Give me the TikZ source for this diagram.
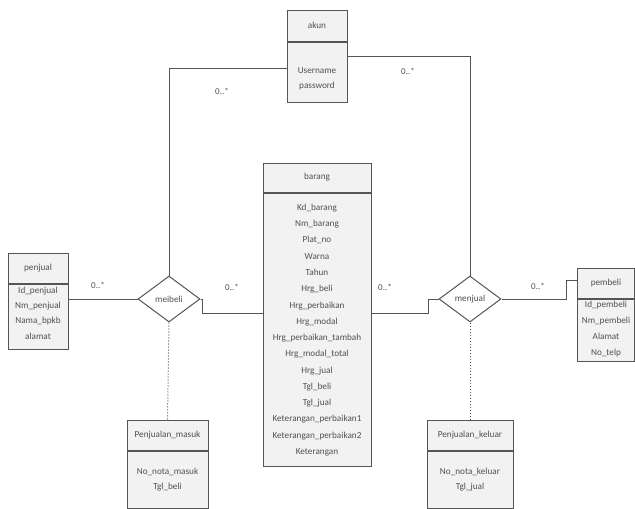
\documentclass[tikz,border=0pt]{standalone}
\usepackage{fontspec}
\setmainfont{Carlito}
\usetikzlibrary{positioning, shapes.geometric, calc}
\definecolor{linec}{HTML}{555555}
\definecolor{boxfill}{HTML}{F2F2F2}
\definecolor{textc}{HTML}{505050}

\begin{document}
\begin{tikzpicture}[x=1pt, y=-1pt, text=textc,
    head/.style={draw=linec, fill=boxfill, minimum height=30pt, inner sep=0pt, line width=1pt,
      font=\fontsize{9.2}{10}\selectfont},
    body/.style={draw=linec, fill=boxfill, inner sep=0pt, line width=1pt},
    attrs/.style={align=center, inner sep=0pt, font=\fontsize{9.2}{#1}\selectfont},
    attrs/.default=15.3,
    rel/.style={diamond, draw=linec, fill=white, minimum width=62pt, minimum height=46pt,
      inner sep=0pt, line width=1pt, font=\fontsize{9.2}{10}\selectfont},
    conn/.style={draw=linec, line width=1pt},
    mult/.style={font=\fontsize{9}{10}\selectfont, inner sep=0pt}]
  \useasboundingbox (0,0) rectangle (635,509);

  % akun
  \node[head, minimum width=60pt, minimum height=31pt] (akunH) at (317,25.5) {akun};
  \node[body, minimum width=60pt, minimum height=60pt, anchor=north] (akunB) at (akunH.south) {};
  \node[attrs=15] (akunA) at (317,78.5) {Username\\password};

  % barang
  \node[head, minimum width=108pt, minimum height=29pt] (barangH) at (317,177.5) {barang};
  \node[body, minimum width=108pt, minimum height=273pt, anchor=north] (barangB) at (barangH.south) {};
  \node[attrs=16.27] (barangA) at (317,330) {Kd\_barang\\Nm\_barang\\Plat\_no\\Warna\\Tahun\\Hrg\_beli\\Hrg\_perbaikan\\Hrg\_modal\\Hrg\_perbaikan\_tambah\\Hrg\_modal\_total\\Hrg\_jual\\Tgl\_beli\\Tgl\_jual\\Keterangan\_perbaikan1\\Keterangan\_perbaikan2\\Keterangan};

  % penjual
  \node[head, minimum width=60pt] (penjualH) at (38,268) {penjual};
  \node[body, minimum width=60pt, minimum height=65pt, anchor=north] (penjualB) at (penjualH.south) {};
  \node[attrs] (penjualA) at (38,313) {Id\_penjual\\Nm\_penjual\\Nama\_bpkb\\alamat};

  % pembeli
  \node[head, minimum width=57pt] (pembeliH) at (606,283) {pembeli};
  \node[body, minimum width=57pt, minimum height=62pt, anchor=north] (pembeliB) at (pembeliH.south) {};
  \node[attrs=16.2] (pembeliA) at (606,329) {Id\_pembeli\\Nm\_pembeli\\Alamat\\No\_telp};

  % Penjualan_masuk / Penjualan_keluar
  \node[head, minimum width=81pt] (masukH) at (167.5,435) {Penjualan\_masuk};
  \node[body, minimum width=81pt, minimum height=57pt, anchor=north] (masukB) at (masukH.south) {};
  \node[attrs=15] (masukA) at (167.5,479.5) {No\_nota\_masuk\\Tgl\_beli};

  \node[head, minimum width=86pt] (keluarH) at (470,435) {Penjualan\_keluar};
  \node[body, minimum width=86pt, minimum height=57pt, anchor=north] (keluarB) at (keluarH.south) {};
  \node[attrs=15] (keluarA) at (470,479.5) {No\_nota\_keluar\\Tgl\_jual};

  % relasi
  \node[rel] (meibeli) at (169,299) {meibeli};
  \node[rel] (menjual) at (470,299) {menjual};

  \draw[conn] ($(akunB.north west)+(0,27)$) -| (meibeli.north);
  \draw[conn] ($(akunB.north east)+(0,15)$) -| (menjual.north);
  \draw[conn] (penjualB.east |- meibeli.west) -- (meibeli.west);
  \draw[conn] (meibeli.east) -- ++(2,0) |- (barangB.west |- 0,313);
  \draw[conn] (barangB.east |- 0,313) -| ($(menjual.west)+(-10,0)$) -- (menjual.west);
  \draw[conn] (menjual.east) -| ($(pembeliH.west)+(-11,-3)$) -- ($(pembeliH.west)+(0,-3)$);
  \draw[conn, dotted] (meibeli.south) -- (masukH.north);
  \draw[conn, dotted] (menjual.south) -- (keluarH.north);

  % multiplisitas
  \node[mult] (m1) at (98,285) {0..*};
  \node[mult] (m2) at (232,287) {0..*};
  \node[mult] (m3) at (385,287) {0..*};
  \node[mult] (m4) at (538,286) {0..*};
  \node[mult] (m5) at (222,91) {0..*};
  \node[mult] (m6) at (408,71) {0..*};
\end{tikzpicture}
\end{document}
